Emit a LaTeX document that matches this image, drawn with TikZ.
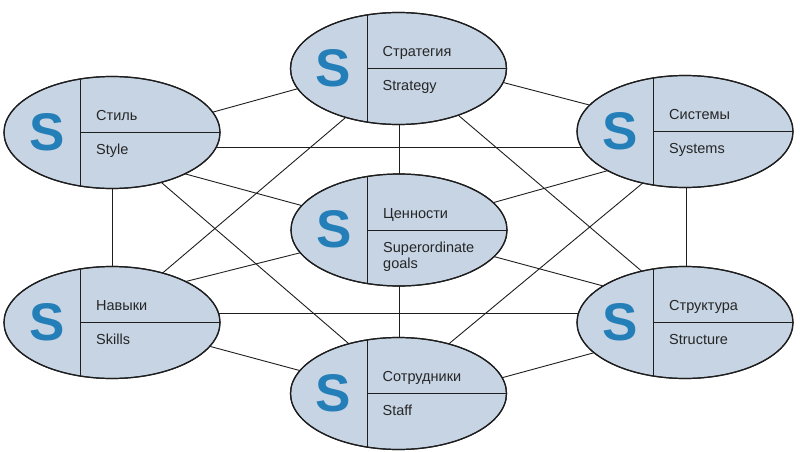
\documentclass[tikz,border=0pt]{standalone}
\usepackage{fontspec}
\setmainfont{Liberation Sans}
\usetikzlibrary{shapes.geometric}
\pgfdeclarelayer{background}
\pgfsetlayers{background,main}
\definecolor{ellfill}{RGB}{198,212,228}
\definecolor{sblue}{RGB}{36,126,184}
\definecolor{edgecol}{RGB}{30,30,30}
\tikzset{
  sell/.style={ellipse, draw=edgecol, line width=1.2pt, fill=ellfill,
    minimum width=216pt, minimum height=112pt, inner sep=0pt},
  divline/.style={draw=edgecol, line width=1.0pt},
  sletter/.style={anchor=base, inner sep=0pt, text=sblue,
    font=\fontsize{53}{56}\selectfont\bfseries},
  lbl/.style={anchor=base west, inner sep=0pt, text=black!85,
    font=\fontsize{14.5}{16}\selectfont},
  link/.style={draw=edgecol, line width=0.9pt}
}
\newcommand\SevS[5]{%
  \node[sell] (#1) at (#2,#3) {};
  \begin{scope}
    \clip (#2,#3) ellipse [x radius=108pt, y radius=56pt];
    \draw[divline] (#2-31.5,#3-60) -- (#2-31.5,#3+60);
    \draw[divline] (#2-31.5,#3) -- (#2+120,#3);
  \end{scope}
  \draw[edgecol, line width=1.2pt] (#2,#3) ellipse [x radius=108pt, y radius=56pt];
  \node[sletter] (#1-s) at (#2-65,#3+17.5) {S};
  \node[lbl] (#1-ru) at (#2-16,#3-12) {#4};
  \node[lbl] (#1-en) at (#2-16,#3+22) {#5};
}
\begin{document}
\begin{tikzpicture}[x=1pt, y=-1pt]
\useasboundingbox (0,0) rectangle (800,452);
\SevS{strategy}{398.5}{68.5}{Стратегия}{Strategy}
\SevS{style}{112}{132.5}{Стиль}{Style}
\SevS{systems}{685}{131.5}{Системы}{Systems}
\SevS{values}{399}{230}{Ценности}{Superordinate}
\node[lbl] (values-en2) at (383,268) {goals};
\SevS{skills}{112}{322.5}{Навыки}{Skills}
\SevS{structure}{685}{322.5}{Структура}{Structure}
\SevS{staff}{398.5}{393.5}{Сотрудники}{Staff}
\begin{pgfonlayer}{background}
\draw[link] ([shift={(0,7.5)}]style.center) -- ([shift={(-0.5,-7.5)}]strategy.center);
\draw[link] ([shift={(-0.5,-13.5)}]strategy.center) -- ([shift={(0,-1.5)}]systems.center);
\draw[link] ([shift={(0,14.5)}]style.center) -- ([shift={(0,15.5)}]systems.center);
\draw[link] ([shift={(0,21.5)}]style.center) -- ([shift={(0,2)}]values.center);
\draw[link] ([shift={(0,7.5)}]style.center) -- ([shift={(-0.5,-7.5)}]staff.center);
\draw[link] (style.center) -- (skills.center);
\draw[link] ([shift={(0.5,0)}]strategy.center) -- (values.center);
\draw[link] (values.center) -- ([shift={(0.5,0)}]staff.center);
\draw[link] ([shift={(-0.5,4.5)}]strategy.center) -- ([shift={(0,-6.5)}]skills.center);
\draw[link] ([shift={(-0.5,-4.5)}]strategy.center) -- ([shift={(0,-14.5)}]structure.center);
\draw[link] ([shift={(0,16.5)}]systems.center) -- ([shift={(-0.5,-7.5)}]staff.center);
\draw[link] ([shift={(0,17.5)}]systems.center) -- ([shift={(0,-1)}]values.center);
\draw[link] ([shift={(0,-22.5)}]skills.center) -- ([shift={(0,-2)}]values.center);
\draw[link] ([shift={(0,1)}]values.center) -- ([shift={(0,-14.5)}]structure.center);
\draw[link] ([shift={(0,-9.5)}]skills.center) -- ([shift={(0,-9.5)}]structure.center);
\draw[link] ([shift={(0,-2.5)}]skills.center) -- ([shift={(-0.5,3.5)}]staff.center);
\draw[link] ([shift={(-0.5,12.5)}]staff.center) -- ([shift={(0,5.5)}]structure.center);
\draw[link] ([shift={(1,0)}]systems.center) -- ([shift={(1,0)}]structure.center);
\end{pgfonlayer}
\end{tikzpicture}
\end{document}
